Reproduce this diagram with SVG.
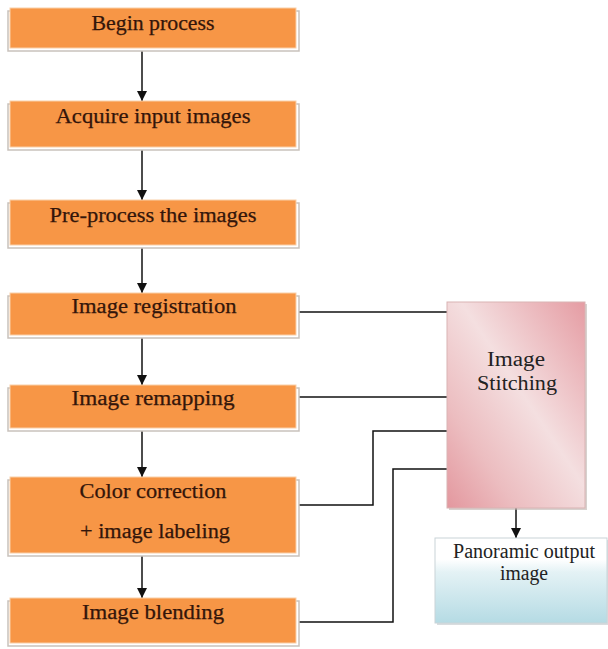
<svg xmlns="http://www.w3.org/2000/svg" width="608" height="649" viewBox="0 0 608 649">
<defs>
<linearGradient id="pink" x1="1" y1="0" x2="0" y2="1">
<stop offset="0" stop-color="#e59ca3"/>
<stop offset="0.45" stop-color="#f4dfe0"/>
<stop offset="0.75" stop-color="#ecbdc0"/>
<stop offset="1" stop-color="#e3979e"/>
</linearGradient>
<linearGradient id="blue" x1="0" y1="0" x2="0" y2="1">
<stop offset="0" stop-color="#ffffff"/>
<stop offset="0.25" stop-color="#ffffff"/>
<stop offset="0.4" stop-color="#e4f2f5"/>
<stop offset="1" stop-color="#b5dbe4"/>
</linearGradient>
<marker id="arr" viewBox="0 0 10 10" refX="10" refY="5" markerWidth="10" markerHeight="10" markerUnits="userSpaceOnUse" orient="auto">
<path d="M0,0 L10,5 L0,10 z" fill="#111"/>
</marker>
</defs>
<style>
.box{fill:#f79646;stroke:#f9cfa8;stroke-width:1}
.sh{fill:#ffffff;stroke:#c9c2bc;stroke-width:1.5}
.t{font-family:'Liberation Serif',serif;font-size:20px;fill:#33150a;stroke:#33150a;stroke-width:0.25;text-anchor:middle}
.t2{font-family:'Liberation Serif',serif;font-size:20px;fill:#222;text-anchor:middle}
.ln{fill:none;stroke:#111;stroke-width:1.5}
</style>
<rect width="608" height="649" fill="#ffffff"/>
<g id="connectors">
<line class="ln" x1="142" y1="51" x2="142" y2="101" marker-end="url(#arr)"/>
<line class="ln" x1="142" y1="150" x2="142" y2="200" marker-end="url(#arr)"/>
<line class="ln" x1="142" y1="248" x2="142" y2="293" marker-end="url(#arr)"/>
<line class="ln" x1="142" y1="338" x2="142" y2="385" marker-end="url(#arr)"/>
<line class="ln" x1="142" y1="431" x2="142" y2="477" marker-end="url(#arr)"/>
<line class="ln" x1="142" y1="556" x2="142" y2="598" marker-end="url(#arr)"/>
<polyline class="ln" points="298,312 447,312"/>
<polyline class="ln" points="298,397 447,397"/>
<polyline class="ln" points="298,505 373,505 373,431 447,431"/>
<polyline class="ln" points="298,622 393,622 393,469 447,469"/>
<line class="ln" x1="516" y1="508" x2="516" y2="538" marker-end="url(#arr)"/>
</g>
<g id="n1">
<rect class="sh" x="8" y="11" width="291" height="40"/>
<rect class="box" x="10" y="8" width="286" height="40"/>
<text class="t" x="153" y="30" textLength="123" lengthAdjust="spacingAndGlyphs">Begin process</text>
</g>
<g id="n2">
<rect class="sh" x="8" y="104" width="291" height="46"/>
<rect class="box" x="10" y="101" width="286" height="46"/>
<text class="t" x="153" y="123" textLength="195" lengthAdjust="spacingAndGlyphs">Acquire input images</text>
</g>
<g id="n3">
<rect class="sh" x="8" y="203" width="291" height="45"/>
<rect class="box" x="10" y="200" width="286" height="45"/>
<text class="t" x="153" y="222" textLength="207" lengthAdjust="spacingAndGlyphs">Pre-process the images</text>
</g>
<g id="n4">
<rect class="sh" x="8" y="296" width="291" height="42"/>
<rect class="box" x="10" y="293" width="286" height="42"/>
<text class="t" x="154" y="313" textLength="165" lengthAdjust="spacingAndGlyphs">Image registration</text>
</g>
<g id="n5">
<rect class="sh" x="8" y="388" width="291" height="43"/>
<rect class="box" x="10" y="385" width="286" height="43"/>
<text class="t" x="153" y="405" textLength="163" lengthAdjust="spacingAndGlyphs">Image remapping</text>
</g>
<g id="n6">
<rect class="sh" x="8" y="480" width="291" height="76"/>
<rect class="box" x="10" y="477" width="286" height="76"/>
<text class="t" x="153" y="498" textLength="147" lengthAdjust="spacingAndGlyphs">Color correction</text>
<text class="t" x="155" y="538" textLength="150" lengthAdjust="spacingAndGlyphs">+ image labeling</text>
</g>
<g id="n7">
<rect class="sh" x="8" y="601" width="291" height="45"/>
<rect class="box" x="10" y="598" width="286" height="45"/>
<text class="t" x="153" y="619" textLength="142" lengthAdjust="spacingAndGlyphs">Image blending</text>
</g>
<g id="stitch">
<rect x="449" y="304" width="138" height="206" fill="#bdb2ae" opacity="0.6"/>
<rect x="447" y="302" width="138" height="206" fill="url(#pink)" stroke="#d9b3b3" stroke-width="1"/>
<text class="t2" x="516" y="366" textLength="58" lengthAdjust="spacingAndGlyphs">Image</text>
<text class="t2" x="517" y="390" textLength="80" lengthAdjust="spacingAndGlyphs">Stitching</text>
</g>
<g id="panorama">
<rect x="437" y="540" width="172" height="85" fill="#bfc6c9" opacity="0.6"/>
<rect x="435" y="538" width="172" height="85" fill="url(#blue)" stroke="#c9d4d8" stroke-width="1"/>
<text class="t2" x="524" y="558" textLength="142" lengthAdjust="spacingAndGlyphs">Panoramic output</text>
<text class="t2" x="524" y="580" textLength="48" lengthAdjust="spacingAndGlyphs">image</text>
</g>
</svg>
